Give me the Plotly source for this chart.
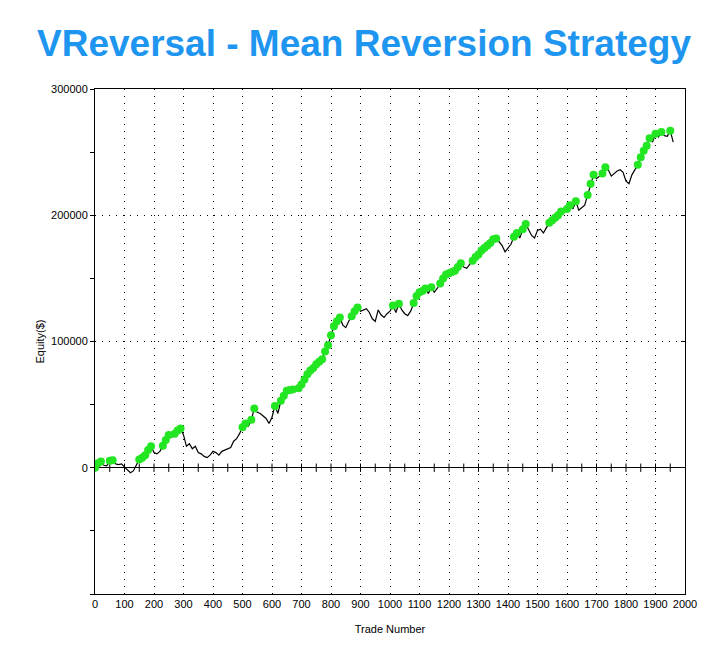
import numpy as np
import plotly.graph_objects as go

# ---- data ----
trade_step = 10
equity_k = [
    0, 3.5, 5, 2, 1.5, 5.5, 6, 3, 2.5, 3,
    0.5, -2, -4, -2.5, 2, 6.5, 8, 10, 14, 17,
    12, 11, 13, 17.5, 22, 26, 24, 27, 29.5, 31,
    26, 17, 19, 15, 17, 12, 11, 9, 8, 10,
    13, 12, 10, 13, 14, 15, 16, 21, 23, 27,
    32, 35, 33, 38, 47, 44, 43, 41, 39, 35,
    40, 49, 43, 53, 57, 61, 61.5, 62, 61, 63,
    66, 70, 74, 77, 79, 82, 84, 86, 92, 97,
    105, 112, 116, 119, 113, 111, 116, 120, 124, 127,
    124, 125, 126, 123, 118, 116, 125, 121, 119, 122,
    124, 128.5, 123, 130, 125, 122, 120.5, 124, 130.5, 136,
    139, 140, 142, 138, 143, 139, 142, 146, 150, 153,
    154, 155, 156, 159, 162, 159, 158, 161, 164, 167,
    169, 172, 174, 176, 178, 181, 181.5, 179, 176, 171,
    174, 177, 183, 186, 182, 189, 193, 188, 184, 182,
    188, 189, 186, 190, 194, 196, 198, 200, 203, 202.5,
    205, 208, 205, 211, 204, 206, 208, 216, 225, 232,
    229, 231, 233, 238, 236, 231, 233, 235, 236, 234,
    227, 225, 232, 236, 240, 246, 251, 255, 261, 258,
    264.5, 262, 266, 263, 262.5, 267, 258,
]
x_ticks = list(range(0, 2001, 100))
y_label_vals = [0, 100000, 200000, 300000]
y_label_text = ["0", "100000", "200000", "300000"]

title_text = "VReversal - Mean Reversion Strategy"
x_title = "Trade Number"
y_title = "Equity($)"

# ---- derived ----
equity = np.array(equity_k) * 1000.0
trades = np.arange(len(equity)) * trade_step
run_max = np.maximum.accumulate(equity)
is_high = equity >= run_max
hx = trades[is_high]
hy = equity[is_high]

FONT = "Arial, Liberation Sans, sans-serif"

fig = go.Figure()
# ticks crossing the zero line
zt = np.arange(50, 2000, 50)
fig.add_trace(go.Scatter(x=zt, y=np.zeros(len(zt)), mode="markers",
                         marker=dict(symbol="line-ns", size=6,
                                     line=dict(color="black", width=1)),
                         hoverinfo="skip", showlegend=False))
fig.add_trace(go.Scatter(x=trades, y=equity, mode="lines",
                         line=dict(color="black", width=1.2),
                         showlegend=False))
fig.add_trace(go.Scatter(x=hx, y=hy, mode="markers",
                         marker=dict(color="#22E622", size=8, line=dict(width=0)),
                         showlegend=False))
# right axis inner ticks
fig.add_trace(go.Scatter(x=[None], y=[None], yaxis="y2", showlegend=False))

fig.update_layout(
    width=728, height=660,
    margin=dict(l=95, r=43, t=89, b=66),
    paper_bgcolor="white", plot_bgcolor="white",
    title=dict(text="<b>" + title_text + "</b>", x=0.5, xanchor="center",
               y=0.935, yanchor="middle",
               font=dict(family=FONT, size=37, color="#1E96F0")),
    xaxis=dict(range=[0, 2000], tickvals=x_ticks, ticks="",
               showgrid=True, gridcolor="black", gridwidth=1, griddash="1px,6px",
               showline=True, linecolor="black", linewidth=1, mirror=True,
               zeroline=False,
               tickfont=dict(family=FONT, size=11, color="black"),
               title=dict(text=x_title, font=dict(family=FONT, size=11, color="black"),
                          standoff=16)),
    yaxis=dict(range=[-100000, 300000], tickvals=y_label_vals, ticktext=y_label_text,
               ticks="outside", ticklen=4, tickcolor="black",
               minor=dict(dtick=50000, tick0=0, ticks="outside", ticklen=4,
                          tickcolor="black", showgrid=False),
               showgrid=True, gridcolor="black", gridwidth=1, griddash="1px,6px",
               showline=True, linecolor="black", linewidth=1, mirror=True,
               zeroline=True, zerolinecolor="black", zerolinewidth=1,
               tickfont=dict(family=FONT, size=11, color="black"),
               title=dict(text=y_title, font=dict(family=FONT, size=11, color="black"),
                          standoff=4)),
    yaxis2=dict(range=[-100000, 300000], overlaying="y", side="right",
                tickvals=[0, 100000, 200000], ticks="inside", ticklen=4,
                tickcolor="black", showticklabels=False, showgrid=False,
                zeroline=False, showline=False),
)

fig.write_html("out.html")
